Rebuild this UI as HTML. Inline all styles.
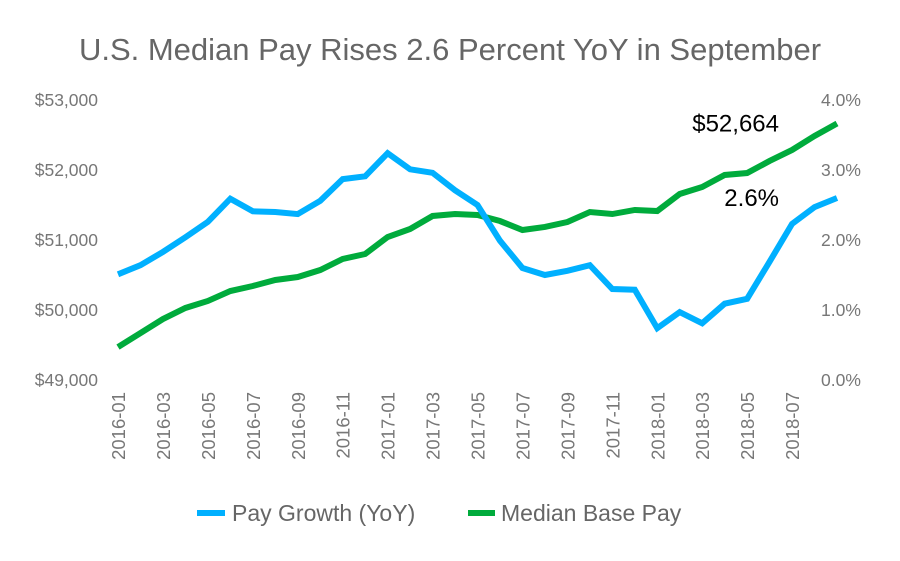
<!DOCTYPE html>
<html><head><meta charset="utf-8"><style>
body{margin:0;background:#fff;font-family:"Liberation Sans",sans-serif}
svg text{font-family:"Liberation Sans",sans-serif}
</style></head><body>
<svg id="c" width="900" height="556">
<text x="450" y="60" text-anchor="middle" font-size="31" fill="#666">U.S. Median Pay Rises 2.6 Percent YoY in September</text>
<g id="axes"></g><g id="lines"></g>
<g>
<line x1="197" y1="513" x2="225" y2="513" stroke="#00b0ff" stroke-width="6"/>
<text x="232" y="521" font-size="23" fill="#666">Pay Growth (YoY)</text>
<line x1="468" y1="513" x2="495" y2="513" stroke="#00ab3c" stroke-width="6"/>
<text x="501" y="521" font-size="23" fill="#666">Median Base Pay</text>
</g>
</svg>
<script>
const months=["2016-01","2016-02","2016-03","2016-04","2016-05","2016-06","2016-07","2016-08","2016-09","2016-10","2016-11","2016-12","2017-01","2017-02","2017-03","2017-04","2017-05","2017-06","2017-07","2017-08","2017-09","2017-10","2017-11","2017-12","2018-01","2018-02","2018-03","2018-04","2018-05","2018-06","2018-07","2018-08","2018-09"];
const payGrowth=[1.51,1.64,1.83,2.04,2.26,2.59,2.41,2.40,2.37,2.56,2.87,2.91,3.24,3.01,2.96,2.71,2.50,1.99,1.60,1.50,1.56,1.64,1.30,1.29,0.74,0.97,0.81,1.09,1.16,1.69,2.23,2.47,2.60];
const basePay=[49471,49671,49871,50029,50129,50271,50343,50429,50471,50571,50729,50800,51043,51157,51343,51371,51357,51271,51143,51186,51257,51400,51371,51429,51414,51657,51757,51929,51957,52129,52286,52486,52664];
const leftTicks=[49000,50000,51000,52000,53000];
const rightTicks=[0,1,2,3,4];
const NS="http://www.w3.org/2000/svg";
const x0=118,x1=837,yT=100,yB=380;
const xs=i=>x0+i*(x1-x0)/(months.length-1);
const yL=v=>yB-(v-49000)/4000*(yB-yT);
const yR=v=>yB-v/4*(yB-yT);
function mk(t,a,p){const e=document.createElementNS(NS,t);for(const k in a)e.setAttribute(k,a[k]);p.appendChild(e);return e;}
const ax=document.getElementById('axes'),ln=document.getElementById('lines');
leftTicks.forEach(v=>{const t=mk('text',{x:98,y:yL(v)+6,'text-anchor':'end','font-size':17.5,fill:'#777'},ax);t.textContent='$'+v.toLocaleString('en-US');

});
rightTicks.forEach(v=>{const t=mk('text',{x:821,y:yR(v)+6,'font-size':17.5,fill:'#777'},ax);t.textContent=v.toFixed(1)+'%';

});
months.forEach((m,i)=>{if(i%2||i>=months.length-1)return;const x=xs(i);const t=mk('text',{x:0,y:0,'text-anchor':'end','font-size':18.5,fill:'#777',transform:`translate(${x+7},392) rotate(-90)`},ax);t.textContent=m;

});
function line(vals,f,col,name){const p=mk('polyline',{points:vals.map((v,i)=>xs(i)+','+f(v)).join(' '),fill:'none',stroke:col,'stroke-width':6,'stroke-linejoin':'miter'},ln);

}
line(basePay,yL,'#00ab3c','median-base-pay-line');
line(payGrowth,yR,'#00b0ff','pay-growth-line');
const lb=basePay[basePay.length-1],lg=payGrowth[payGrowth.length-1];
const a1=mk('text',{x:779,y:yL(lb)+8,'text-anchor':'end','font-size':24,fill:'#000'},ln);a1.textContent='$'+lb.toLocaleString('en-US');


const a2=mk('text',{x:779,y:yR(lg)+8,'text-anchor':'end','font-size':24,fill:'#000'},ln);a2.textContent=lg.toFixed(1)+'%';


</script>
</body></html>
